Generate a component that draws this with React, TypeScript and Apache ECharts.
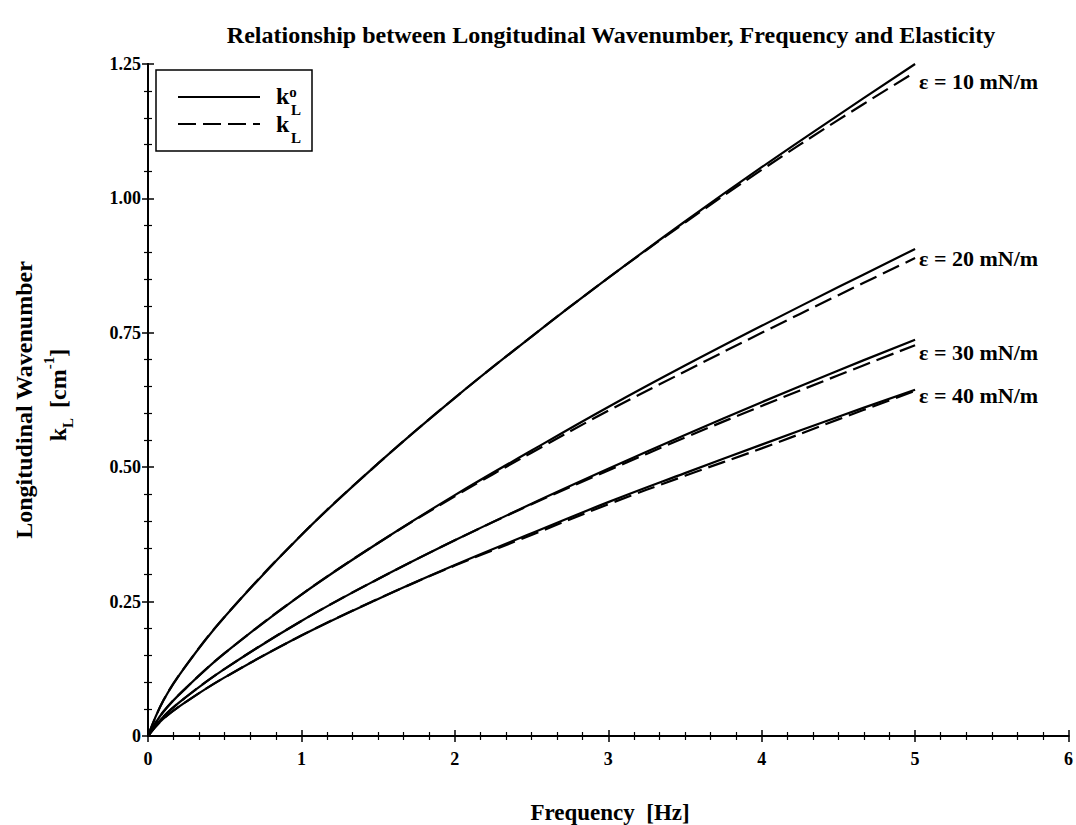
import React, { useEffect, useRef } from "react";
import * as echarts from "echarts";

const frequency = [0, 0.1, 0.25, 0.5, 1, 1.5, 2, 2.5, 3, 3.5, 4, 4.5, 5];

// solid: k_L^o
const k0_e10 = [0, 0.066, 0.132, 0.222, 0.374, 0.507, 0.629, 0.743, 0.852, 0.957, 1.058, 1.155, 1.25];
const k0_e20 = [0, 0.045, 0.09, 0.154, 0.263, 0.359, 0.448, 0.531, 0.612, 0.689, 0.763, 0.835, 0.906];
const k0_e30 = [0, 0.036, 0.073, 0.125, 0.214, 0.292, 0.364, 0.432, 0.497, 0.56, 0.621, 0.68, 0.737];
const k0_e40 = [0, 0.032, 0.064, 0.109, 0.187, 0.255, 0.318, 0.377, 0.435, 0.489, 0.542, 0.594, 0.644];

// dashed: k_L
const k_e10 = [0, 0.066, 0.132, 0.222, 0.374, 0.507, 0.629, 0.743, 0.852, 0.955, 1.053, 1.146, 1.235];
const k_e20 = [0, 0.045, 0.09, 0.154, 0.263, 0.359, 0.446, 0.527, 0.605, 0.678, 0.75, 0.82, 0.889];
const k_e30 = [0, 0.036, 0.073, 0.125, 0.214, 0.292, 0.364, 0.431, 0.494, 0.555, 0.614, 0.671, 0.727];
const k_e40 = [0, 0.032, 0.064, 0.109, 0.187, 0.255, 0.317, 0.374, 0.431, 0.484, 0.535, 0.589, 0.642];

const curveLabels = ["ε = 10 mN/m", "ε = 20 mN/m", "ε = 30 mN/m", "ε = 40 mN/m"];
const labelOffsets = [9, 0, 7, 5];

const xTicks = [0, 1, 2, 3, 4, 5, 6];
const yTickLabels = ["0", "0.25", "0.50", "0.75", "1.00", "1.25"];

const FONT = "'Liberation Serif', 'Times New Roman', serif";

export default function App() {
  const ref = useRef<HTMLDivElement>(null);
  useEffect(() => {
    if (!ref.current) return;
    const chart = echarts.init(ref.current, undefined, { renderer: "svg" });
    const pairs = (ys: number[]) => frequency.map((f, i) => [f, ys[i]]);
    const solid = [k0_e10, k0_e20, k0_e30, k0_e40];
    const dashed = [k_e10, k_e20, k_e30, k_e40];
    const series: any[] = [];
    solid.forEach((ys, i) => {
      series.push({
        type: "line",
        name: "solid " + curveLabels[i],
        data: pairs(ys),
        showSymbol: false,
        smooth: 0.4,
        lineStyle: { color: "#000", width: 2.2, type: "solid" },
        xAxisIndex: 0,
        yAxisIndex: 0,
      });
    });
    dashed.forEach((ys, i) => {
      series.push({
        type: "line",
        name: curveLabels[i],
        data: pairs(ys),
        showSymbol: false,
        smooth: 0.4,
        lineStyle: { color: "#000", width: 2.2, type: [18, 7] },
        xAxisIndex: 0,
        yAxisIndex: 0,
        endLabel: {
          show: true,
          formatter: curveLabels[i],
          fontFamily: FONT,
          fontWeight: "bold",
          fontSize: 22,
          color: "#000",
          distance: 4,
          offset: [0, labelOffsets[i]],
        },
      });
    });

    const axisLine = { show: true, lineStyle: { color: "#000", width: 2 } };
    const axisTick = { show: true, inside: true, length: 6, lineStyle: { color: "#000", width: 1.5 } };
    const minorX = { show: true, splitNumber: 6, length: 4, lineStyle: { color: "#000", width: 1.2 } };
    const minorY = { show: true, splitNumber: 5, length: 4, lineStyle: { color: "#000", width: 1.2 } };
    const labelStyle = { fontFamily: FONT, fontWeight: "bold" as const, fontSize: 18, color: "#000" };

    chart.setOption({
      animation: false,
      backgroundColor: "#fff",
      grid: { left: 148, right: 4, top: 64, bottom: 89, containLabel: false },
      xAxis: [
        {
          type: "value",
          min: 0,
          max: 6,
          interval: 1,
          position: "bottom",
          axisLine,
          axisTick,
          minorTick: minorX,
          splitLine: { show: false },
          axisLabel: {
            ...labelStyle,
            margin: 14,
            formatter: (v: number) => (xTicks.includes(v) ? String(v) : ""),
          },
        },
        {
          type: "value",
          min: 0,
          max: 6,
          interval: 1,
          position: "top",
          axisLine,
          axisTick,
          minorTick: minorX,
          splitLine: { show: false },
          axisLabel: { show: false },
        },
      ],
      yAxis: [
        {
          type: "value",
          min: 0,
          max: 1.25,
          interval: 0.25,
          position: "left",
          axisLine,
          axisTick,
          minorTick: minorY,
          splitLine: { show: false },
          axisLabel: {
            ...labelStyle,
            margin: 7,
            formatter: (v: number) => yTickLabels[Math.round(v / 0.25)] ?? "",
          },
        },
        {
          type: "value",
          min: 0,
          max: 1.25,
          interval: 0.25,
          position: "right",
          axisLine,
          axisTick,
          minorTick: minorY,
          splitLine: { show: false },
          axisLabel: { show: false },
        },
      ],
      series,
      graphic: [
        {
          type: "text",
          x: 611,
          y: 35,
          style: {
            text: "Relationship between Longitudinal Wavenumber, Frequency and Elasticity",
            fontFamily: FONT,
            fontWeight: "bold",
            fontSize: 24,
            fill: "#000",
            align: "center",
            verticalAlign: "middle",
          },
        },
        {
          type: "text",
          x: 610,
          y: 812,
          style: {
            text: "Frequency  [Hz]",
            fontFamily: FONT,
            fontWeight: "bold",
            fontSize: 23,
            fill: "#000",
            align: "center",
            verticalAlign: "middle",
          },
        },
        {
          type: "group",
          x: 24,
          y: 400,
          rotation: Math.PI / 2,
          children: [
            {
              type: "text",
              x: 0,
              y: 0,
              style: {
                text: "Longitudinal Wavenumber",
                fontFamily: FONT,
                fontWeight: "bold",
                fontSize: 24,
                fill: "#000",
                align: "center",
                verticalAlign: "middle",
              },
            },
            {
              type: "text",
              x: 5,
              y: 34,
              style: {
                text: "{b|k}{sub|L}   {b|[cm}{sup|-1}{b|]}",
                align: "center",
                verticalAlign: "middle",
                fill: "#000",
                rich: {
                  b: { fontFamily: FONT, fontWeight: "bold", fontSize: 24, lineHeight: 34, verticalAlign: "middle" },
                  sub: { fontFamily: FONT, fontWeight: "bold", fontSize: 15, lineHeight: 15, verticalAlign: "bottom" },
                  sup: { fontFamily: FONT, fontWeight: "bold", fontSize: 15, lineHeight: 15, verticalAlign: "top" },
                },
              },
            },
          ],
        },
        {
          type: "rect",
          shape: { x: 156, y: 70, width: 156, height: 81 },
          style: { fill: "#fff", stroke: "#000", lineWidth: 1.5 },
          z: 10,
        },
        {
          type: "line",
          shape: { x1: 178, y1: 97, x2: 260, y2: 97 },
          style: { stroke: "#000", lineWidth: 2 },
          z: 11,
        },
        {
          type: "line",
          shape: { x1: 178, y1: 124, x2: 260, y2: 124 },
          style: { stroke: "#000", lineWidth: 2, lineDash: [18, 7] },
          z: 11,
        },
        {
          type: "text",
          x: 276,
          y: 96,
          z: 11,
          style: {
            text: "{b|k}{sup|o}",
            fill: "#000",
            verticalAlign: "middle",
            rich: {
              b: { fontFamily: FONT, fontWeight: "bold", fontSize: 24, lineHeight: 24, verticalAlign: "middle" },
              sup: { fontFamily: FONT, fontWeight: "bold", fontSize: 15, lineHeight: 15, verticalAlign: "top" },
            },
          },
        },
        {
          type: "text",
          x: 291,
          y: 110,
          z: 11,
          style: { text: "L", fontFamily: FONT, fontWeight: "bold", fontSize: 15, fill: "#000", verticalAlign: "middle" },
        },
        {
          type: "text",
          x: 276,
          y: 124,
          z: 11,
          style: { text: "k", fontFamily: FONT, fontWeight: "bold", fontSize: 24, fill: "#000", verticalAlign: "middle" },
        },
        {
          type: "text",
          x: 291,
          y: 138,
          z: 11,
          style: { text: "L", fontFamily: FONT, fontWeight: "bold", fontSize: 15, fill: "#000", verticalAlign: "middle" },
        },
      ],
    });
    return () => chart.dispose();
  }, []);
  return <div ref={ref} style={{ position: "fixed", left: 0, top: 0, width: 1076, height: 825 }} />;
}
